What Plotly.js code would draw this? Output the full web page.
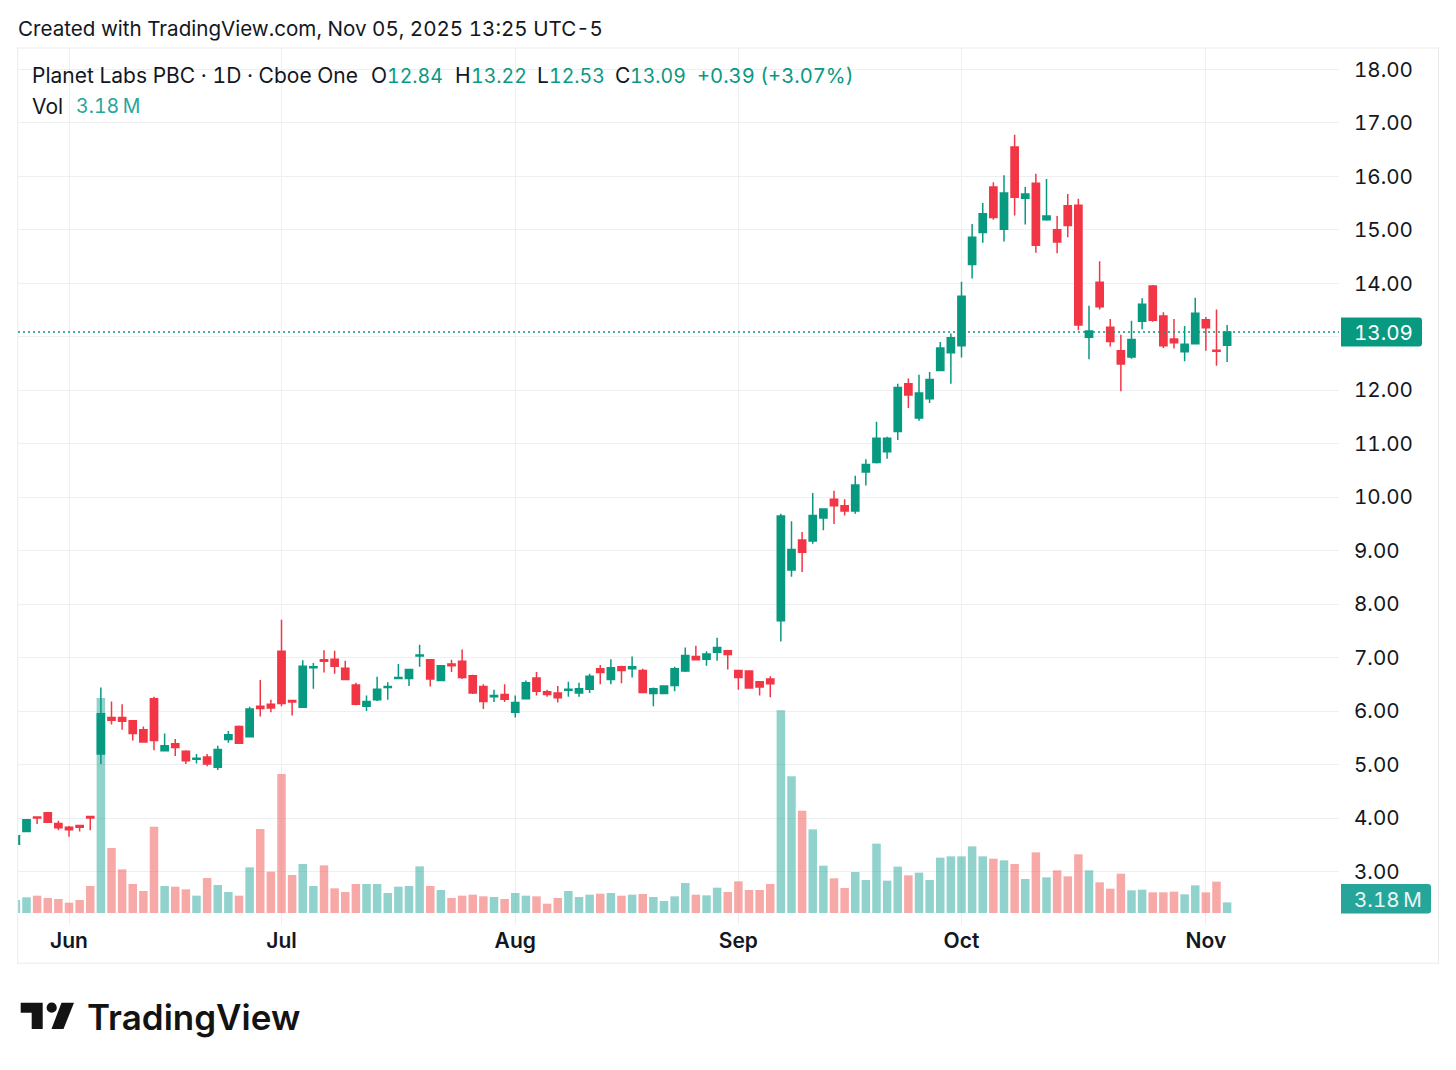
<!DOCTYPE html>
<html>
<head>
<meta charset="utf-8">
<script src="https://cdn.plot.ly/plotly-3.0.1.min.js"></script>
<style>html,body{margin:0;padding:0;background:#fff}#chart{width:1456px;height:1070px}text{font-feature-settings:"tnum" 1}</style>
</head>
<body>
<div id="chart"></div>
<script>
const dates = ["05-23","05-27","05-28","05-29","05-30",
"06-02","06-03","06-04","06-05","06-06","06-09","06-10","06-11","06-12","06-13","06-16","06-17","06-18","06-20","06-23","06-24","06-25","06-26","06-27","06-30",
"07-01","07-02","07-03","07-07","07-08","07-09","07-10","07-11","07-14","07-15","07-16","07-17","07-18","07-21","07-22","07-23","07-24","07-25","07-28","07-29","07-30","07-31",
"08-01","08-04","08-05","08-06","08-07","08-08","08-11","08-12","08-13","08-14","08-15","08-18","08-19","08-20","08-21","08-22","08-25","08-26","08-27","08-28","08-29",
"09-02","09-03","09-04","09-05","09-08","09-09","09-10","09-11","09-12","09-15","09-16","09-17","09-18","09-19","09-22","09-23","09-24","09-25","09-26","09-29","09-30",
"10-01","10-02","10-03","10-06","10-07","10-08","10-09","10-10","10-13","10-14","10-15","10-16","10-17","10-20","10-21","10-22","10-23","10-24","10-27","10-28","10-29","10-30","10-31",
"11-03","11-04","11-05"];

const open = [3.51,3.75,4.02,4.10,3.90,3.83,3.86,4.03,5.20,5.88,5.88,5.82,5.65,6.23,5.26,5.39,5.25,5.10,5.14,4.95,5.47,5.71,5.52,6.09,6.13,
7.12,6.20,6.07,6.81,6.96,6.97,6.80,6.49,6.09,6.21,6.44,6.61,6.61,7.03,6.96,6.57,6.88,6.93,6.66,6.46,6.27,6.31,
5.98,6.23,6.62,6.36,6.34,6.39,6.34,6.41,6.79,6.59,6.83,6.79,6.76,6.33,6.33,6.48,6.75,7.02,6.97,7.10,7.13,
6.76,6.75,6.55,6.60,7.69,8.64,9.20,9.18,9.61,9.96,9.84,9.74,10.47,10.65,10.85,11.23,12.12,11.48,11.84,12.37,12.70,
12.83,14.35,14.95,15.80,15.01,16.55,15.59,15.87,15.19,15.00,15.45,15.46,12.99,14.02,13.18,12.74,12.62,13.29,13.95,13.39,12.96,12.72,12.87,
13.32,12.75,12.84];
const close = [3.67,3.97,4.00,3.92,3.82,3.78,3.83,4.00,5.95,5.83,5.81,5.58,5.42,5.45,5.35,5.32,5.07,5.12,5.01,5.28,5.56,5.40,6.04,6.05,6.06,
6.14,6.17,6.84,6.83,6.93,6.84,6.59,6.13,6.18,6.41,6.46,6.63,6.78,7.05,6.60,6.85,6.85,6.63,6.34,6.18,6.29,6.22,
6.16,6.53,6.37,6.31,6.25,6.41,6.42,6.65,6.72,6.81,6.76,6.83,6.35,6.42,6.47,6.79,7.04,6.96,7.07,7.19,7.06,
6.63,6.43,6.45,6.51,9.65,9.02,8.97,9.66,9.78,9.84,9.74,10.23,10.61,11.10,11.10,12.05,11.91,11.95,12.20,12.79,12.98,
13.76,14.86,15.30,15.23,15.69,15.61,15.67,14.71,15.26,14.77,15.08,13.22,13.11,13.56,12.91,12.49,12.95,13.61,13.31,12.83,12.89,12.86,13.44,
13.17,12.73,13.09];
const high = [3.67,3.97,4.02,4.11,3.95,3.85,3.86,4.03,6.44,6.18,6.13,5.83,5.71,6.27,5.58,5.48,5.27,5.20,5.20,5.35,5.63,5.73,6.08,6.58,6.21,
7.71,6.21,6.95,6.90,7.14,7.13,6.94,6.53,6.29,6.64,6.54,6.88,6.79,7.24,6.96,6.86,6.96,7.15,6.68,6.50,6.40,6.50,
6.29,6.57,6.73,6.40,6.47,6.55,6.53,6.70,6.86,6.97,6.85,7.02,6.79,6.44,6.47,6.83,7.19,7.22,7.12,7.37,7.14,
6.77,6.75,6.55,6.65,9.69,9.55,9.35,10.08,9.78,10.12,9.96,10.40,10.71,11.41,11.13,12.12,12.22,12.29,12.34,12.90,13.06,
14.03,15.11,15.50,15.89,16.02,16.78,15.80,16.05,15.95,15.26,15.67,15.58,13.58,14.41,13.33,13.04,13.30,13.72,13.97,13.46,13.33,13.20,13.73,
13.37,13.51,13.22];
const low = [3.51,3.75,3.89,3.91,3.77,3.65,3.75,3.77,5.01,5.75,5.65,5.45,5.42,5.27,5.25,5.16,5.01,5.02,4.97,4.90,5.41,5.40,5.51,5.90,5.98,
6.09,5.92,6.07,6.42,6.72,6.70,6.59,6.11,6.00,6.19,6.21,6.60,6.47,6.83,6.46,6.56,6.73,6.60,6.32,6.04,6.17,6.17,
5.88,6.22,6.29,6.27,6.16,6.27,6.27,6.34,6.50,6.50,6.52,6.63,6.35,6.09,6.33,6.37,6.73,6.96,6.85,6.94,6.78,
6.40,6.43,6.29,6.26,7.30,8.51,8.60,9.13,9.38,9.50,9.66,9.69,10.22,10.63,10.72,11.07,11.67,11.43,11.76,12.36,12.12,
12.61,14.09,14.76,15.19,14.78,15.27,15.10,14.57,15.17,14.56,14.86,13.12,12.58,13.51,12.82,11.98,12.59,13.14,13.28,12.79,12.78,12.54,12.87,
12.74,12.46,12.53];
const volume = [3.9,4.7,5.2,4.5,4.2,3.1,3.9,8.1,64.5,19.5,13.1,8.7,6.6,25.9,8.1,7.9,7.1,5.2,10.5,8.4,6.3,5.2,13.7,25.2,12.4,
41.7,11.4,14.7,8.1,14.3,7.4,6.3,8.7,8.7,8.7,6.0,7.9,8.1,14.0,8.1,6.9,4.5,5.2,5.5,5.0,4.8,4.2,
6.0,5.2,5.0,2.8,4.5,6.6,4.8,5.5,5.8,6.0,5.2,5.5,5.7,4.8,3.6,5.0,9.0,5.5,5.3,7.6,6.3,
9.5,6.9,6.9,8.7,60.8,41.0,30.7,25.1,14.2,10.4,7.5,12.3,9.9,20.8,9.7,13.9,11.3,12.1,9.9,16.6,17.0,
17.0,20.0,17.0,16.3,15.8,14.7,10.2,18.2,10.7,12.8,11.0,17.6,12.8,9.2,7.3,11.8,6.8,7.0,6.2,6.2,6.4,5.6,8.3,
6.2,9.4,3.18];

const monthTickDates = ["06-02","07-01","08-01","09-02","10-01","11-03"];
const monthTickLabels = ["Jun","Jul","Aug","Sep","Oct","Nov"];
const priceTicks = [3,4,5,6,7,8,9,10,11,12,13,14,15,16,17,18];
const priceTickLabels = ["3.00","4.00","5.00","6.00","7.00","8.00","9.00","10.00","11.00","12.00","","14.00","15.00","16.00","17.00","18.00"];
const lastPrice = 13.09;

const UP = "#089981", DOWN = "#F23645", INK = "#131722", GRID = "#eeeff1", FRAME = "#ebebeb";
const FONT = "Inter, 'Liberation Sans', sans-serif";
const L = 18, T = 48, W = 1321, H = 877;
const px = v => (v - L) / W;
const py = v => (T + H - v) / H;

function label(text, x, y, color, size, weight) {
  return {text, xref:"paper", yref:"paper", x:px(x), y:py(y), xanchor:"left", yanchor:"middle",
    showarrow:false, borderpad:0, borderwidth:0, font:{family:FONT, size:size||21, color:color||INK, weight:weight||400}};
}
function poly(points, fill) {
  return {type:"path", xref:"paper", yref:"paper", layer:"above", fillcolor:fill, line:{width:0},
    path:"M " + points.map(p => px(p[0]) + " " + py(p[1])).join(" L ") + " Z"};
}
function tag(x0, x1, y0, y1, fill) {
  const r = 3;
  const P = (x,y) => px(x) + " " + py(y);
  return {type:"path", xref:"paper", yref:"paper", layer:"above", fillcolor:fill, line:{width:0},
    path:`M ${P(x0,y0)} L ${P(x1-r,y0)} Q ${P(x1,y0)} ${P(x1,y0+r)} L ${P(x1,y1-r)} Q ${P(x1,y1)} ${P(x1-r,y1)} L ${P(x0,y1)} Z`};
}

const volumeTrace = {
  type:"bar", x:dates, y:volume, yaxis:"y", xaxis:"x", hoverinfo:"skip",
  marker:{color:close.map((c,i) => c >= open[i] ? "rgba(38,166,154,0.5)" : "rgba(239,83,80,0.5)"), line:{width:0}}
};
const candleTrace = {
  type:"candlestick", x:dates, open, high, low, close, yaxis:"y2", xaxis:"x", hoverinfo:"skip",
  whiskerwidth:0,
  increasing:{line:{color:UP,width:1.5}, fillcolor:UP},
  decreasing:{line:{color:DOWN,width:1.5}, fillcolor:DOWN}
};

const layout = {
  width:1456, height:1070, showlegend:false, paper_bgcolor:"#fff", plot_bgcolor:"#fff",
  margin:{l:L, r:1456-L-W, t:T, b:1070-T-H, pad:0},
  bargap:0.2, boxgap:0.32, boxgroupgap:0, dragmode:false,
  xaxis:{type:"category", range:[0.2,124.53], tickmode:"array", tickvals:monthTickDates, ticktext:monthTickLabels,
    showgrid:true, gridcolor:GRID, gridwidth:1, zeroline:false, showline:false, ticks:"", ticklabelstandoff:1,
    tickangle:0, tickfont:{family:FONT, size:21, color:INK, weight:600}, rangeslider:{visible:false}, fixedrange:true},
  yaxis:{range:[-3.6,259.5], visible:false, showgrid:false, zeroline:false, fixedrange:true},
  yaxis2:{overlaying:"y", side:"right", anchor:"x", range:[2.0,18.40], tickmode:"array", tickvals:priceTicks,
    ticktext:priceTickLabels, showgrid:true, gridcolor:GRID, gridwidth:1, zeroline:false, showline:false,
    ticks:"", ticklabelstandoff:14, tickfont:{family:FONT, size:20.6, color:INK}, fixedrange:true},
  shapes:[
    poly([[17.5,47.5],[1438.5,47.5],[1438.5,48.5],[17.5,48.5]], FRAME),
    poly([[17.5,962.7],[1438.5,962.7],[1438.5,963.7],[17.5,963.7]], FRAME),
    poly([[17.2,47.5],[18.2,47.5],[18.2,963.7],[17.2,963.7]], FRAME),
    poly([[1438,47.5],[1439,47.5],[1439,963.7],[1438,963.7]], FRAME),
    {type:"line", xref:"paper", yref:"y2", x0:0, x1:1, y0:lastPrice, y1:lastPrice, layer:"above",
      line:{color:UP, width:1.5, dash:"2px,3px"}},
    tag(1341,1422,317.5,346.5,UP),
    tag(1341,1431,884,913.5,"#26a69a"),
    poly([[20.7,1002.7],[42.7,1002.7],[42.7,1029],[31.7,1029],[31.7,1012.7],[20.7,1012.7]], "#131313"),
    poly([[61.5,1002.7],[74,1002.7],[63.5,1029],[51.5,1029]], "#131313"),
    {type:"circle", xref:"paper", yref:"paper", layer:"above", fillcolor:"#131313", line:{width:0},
      x0:px(46.6), x1:px(56.8), y0:py(1012.8), y1:py(1002.6)}
  ],
  annotations:[
    label("Created with TradingView.com, Nov 05, 2025 13:25 UTC-5", 18, 28, INK, 20.6),
    label("Planet Labs PBC · 1D · Cboe One", 32, 76),
    label("O", 371, 76), label("12.84", 387, 76, UP, 19.5),
    label("H", 455, 76), label("13.22", 471, 76, UP, 19.5),
    label("L", 537, 76), label("12.53", 549, 76, UP, 19.5),
    label("C", 615, 76), label("13.09", 630, 76, UP, 19.5),
    label("+0.39 (+3.07%)", 697, 76, UP, 20.2),
    label("Vol", 32, 106), label("3.18\u2009M", 76, 106, "#26a69a", 19.5),
    label("13.09", 1354, 332, "#fff", 20.6),
    label("3.18\u2009M", 1354, 899, "#e8f6f4", 20.6),
    label("TradingView", 87, 1017, "#131313", 35, 600)
  ]
};

Plotly.newPlot("chart", [volumeTrace, candleTrace], layout, {displayModeBar:false, staticPlot:true});
</script>
</body>
</html>
